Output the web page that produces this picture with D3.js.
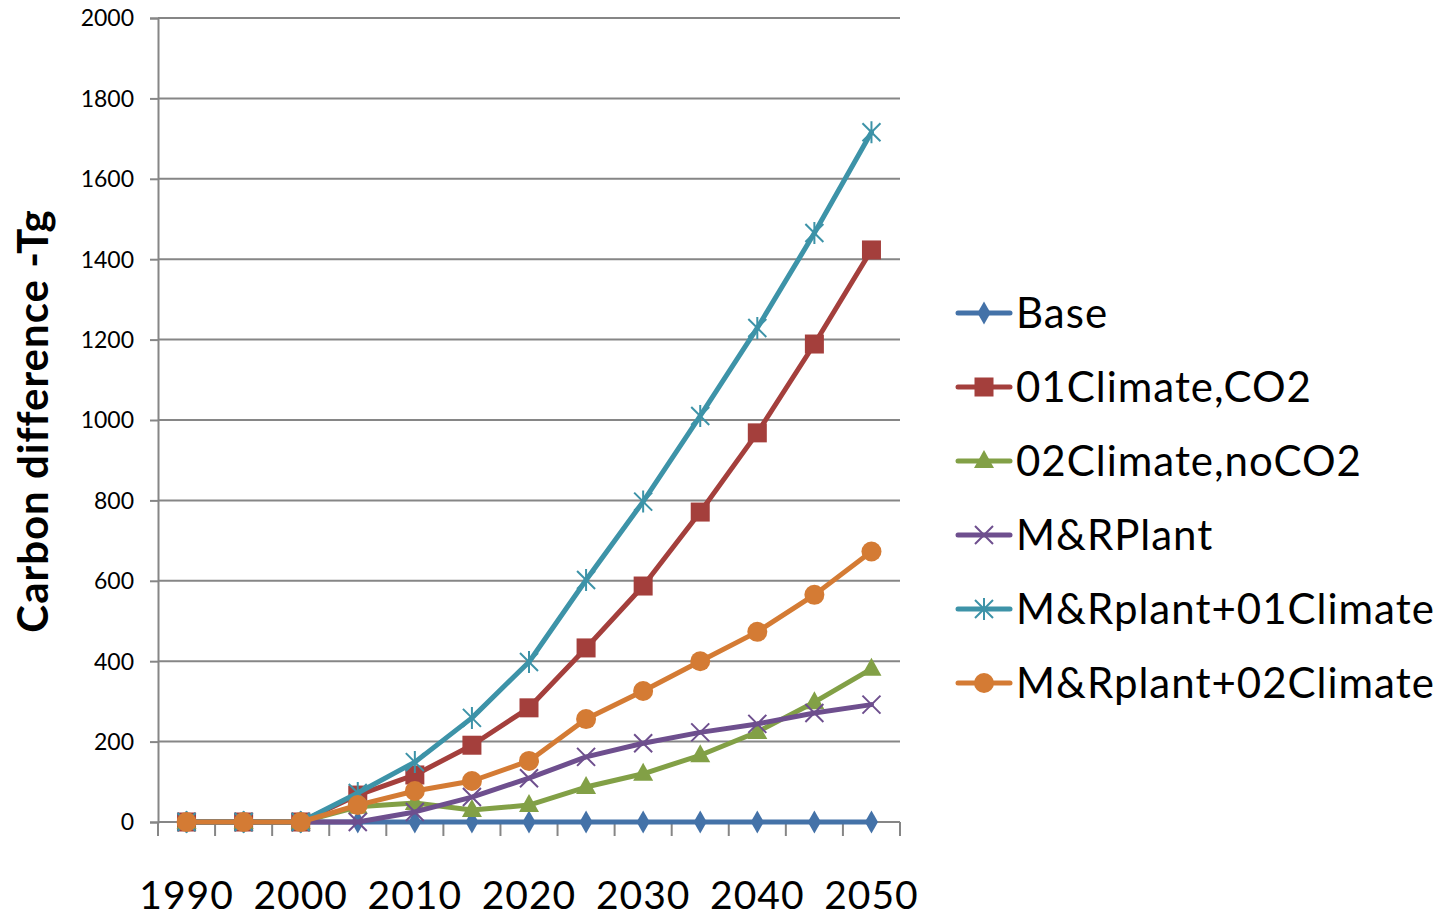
<!DOCTYPE html>
<html>
<head>
<meta charset="utf-8">
<script src="https://cdn.jsdelivr.net/npm/d3@7"></script>
<style>
  html, body { margin: 0; padding: 0; background: #fff; }
  svg { display: block; }
  text { font-family: Lato, "Open Sans", sans-serif; fill: #000; }
</style>
</head>
<body>
<svg id="chart" width="1440" height="917"></svg>
<script>
// Years on the category axis
const years = [1990, 1995, 2000, 2005, 2010, 2015, 2020, 2025, 2030, 2035, 2040, 2045, 2050];
const xTickLabels = ["1990", "2000", "2010", "2020", "2030", "2040", "2050"];
const yTicks = [0, 200, 400, 600, 800, 1000, 1200, 1400, 1600, 1800, 2000];

// Carbon difference (Tg) per scenario
const base          = [0, 0, 0, 0, 0, 0, 0, 0, 0, 0, 0, 0, 0];
const climateCO2    = [0, 0, 0, 67, 117, 191, 284, 433, 587, 771, 968, 1189, 1423];
const climateNoCO2  = [0, 0, 0, 38, 47, 30, 42, 87, 120, 166, 224, 298, 381];
const mrPlant       = [0, 0, 0, 0, 25, 62, 109, 162, 196, 223, 244, 271, 292];
const mrPlant01     = [0, 0, 0, 72, 149, 259, 398, 602, 797, 1010, 1229, 1465, 1716];
const mrPlant02     = [0, 0, 0, 42, 77, 102, 152, 256, 326, 400, 473, 565, 673];

const seriesNames  = ["Base", "01Climate,CO2", "02Climate,noCO2", "M&RPlant", "M&Rplant+01Climate", "M&Rplant+02Climate"];
const seriesColors = ["#4472a8", "#a43f3c", "#82a046", "#6e4f8e", "#3d93a8", "#d47b34"];
const seriesMarks  = ["diamond", "square", "triangle", "x", "star", "circle"];
const seriesValues = [base, climateCO2, climateNoCO2, mrPlant, mrPlant01, mrPlant02];

const svg = d3.select("#chart");
const plot = { left: 158, right: 900, top: 18, bottom: 822 };

const x = d3.scaleBand().domain(years).range([plot.left, plot.right]).paddingInner(0).paddingOuter(0);
const y = d3.scaleLinear().domain([0, 2000]).range([plot.bottom, plot.top]);
const cx = d => x(d) + x.bandwidth() / 2;

const gridColor = "#868686";

// Horizontal gridlines and y-axis
const yAxis = d3.axisLeft(y).tickValues(yTicks).tickSize(8).tickPadding(16).tickFormat(d3.format("d"));
const gy = svg.append("g").attr("transform", `translate(${plot.left},0)`).call(yAxis);
gy.select(".domain").attr("stroke", gridColor).attr("stroke-width", 2);
gy.selectAll(".tick line").attr("stroke", gridColor).attr("stroke-width", 2);
gy.selectAll(".tick text").attr("font-size", 23).attr("font-family", "Lato, sans-serif").attr("dy", "0.34em");

svg.append("g").selectAll("line").data(yTicks.filter(t => t > 0)).join("line")
  .attr("x1", plot.left).attr("x2", plot.right)
  .attr("y1", d => y(d)).attr("y2", d => y(d))
  .attr("stroke", gridColor).attr("stroke-width", 2);

// Category axis along zero line with ticks between categories
const bounds = years.map(d => x(d)).concat([plot.right]);
const gx = svg.append("g");
gx.append("line").attr("x1", plot.left).attr("x2", plot.right)
  .attr("y1", y(0)).attr("y2", y(0)).attr("stroke", gridColor).attr("stroke-width", 2);
gx.selectAll("line.tk").data(bounds).join("line").attr("class", "tk")
  .attr("x1", d => d).attr("x2", d => d)
  .attr("y1", y(0)).attr("y2", y(0) + 14)
  .attr("stroke", gridColor).attr("stroke-width", 2);
gx.selectAll("text").data(xTickLabels).join("text")
  .attr("x", d => cx(+d)).attr("y", 909)
  .attr("text-anchor", "middle").attr("font-size", 39).attr("letter-spacing", 1)
  .text(d => d);

// Y-axis title
svg.append("text")
  .attr("transform", "translate(48,421) rotate(-90)")
  .attr("text-anchor", "middle").attr("font-size", 42).attr("font-weight", "bold")
  .attr("letter-spacing", 1)
  .text("Carbon difference -Tg");

// Marker shapes
function marker(g, kind, color, px, py) {
  if (kind === "diamond") {
    g.append("path").attr("d", d3.symbol(d3.symbolDiamond, 150)()).attr("transform", `translate(${px},${py})`).attr("fill", color);
  } else if (kind === "square") {
    g.append("rect").attr("x", px - 9.5).attr("y", py - 9.5).attr("width", 19).attr("height", 19).attr("fill", color);
  } else if (kind === "triangle") {
    g.append("path").attr("d", `M${px},${py - 11}L${px + 10},${py + 7}L${px - 10},${py + 7}Z`).attr("fill", color);
  } else if (kind === "x") {
    g.append("path").attr("d", `M${px - 9},${py - 9}L${px + 9},${py + 9}M${px - 9},${py + 9}L${px + 9},${py - 9}`)
      .attr("stroke", color).attr("stroke-width", 2).attr("fill", "none");
  } else if (kind === "star") {
    g.append("path").attr("d", `M${px - 9},${py - 9}L${px + 9},${py + 9}M${px - 9},${py + 9}L${px + 9},${py - 9}M${px},${py - 11}L${px},${py + 11}`)
      .attr("stroke", color).attr("stroke-width", 2).attr("fill", "none");
  } else if (kind === "circle") {
    g.append("circle").attr("cx", px).attr("cy", py).attr("r", 10).attr("fill", color);
  }
}

// Series lines and markers
const line = d3.line().x((d, i) => cx(years[i])).y(d => y(d));
seriesValues.forEach((vals, s) => {
  const g = svg.append("g");
  g.append("path").datum(vals).attr("d", line)
    .attr("fill", "none").attr("stroke", seriesColors[s]).attr("stroke-width", 5)
    .attr("stroke-linejoin", "round").attr("stroke-linecap", "round");
  vals.forEach((v, i) => marker(g, seriesMarks[s], seriesColors[s], cx(years[i]), y(v)));
});

// Legend
const legend = svg.append("g");
seriesNames.forEach((name, s) => {
  const ly = 313 + s * 74;
  const g = legend.append("g");
  g.append("line").attr("x1", 958).attr("x2", 1010).attr("y1", ly).attr("y2", ly)
    .attr("stroke", seriesColors[s]).attr("stroke-width", 5).attr("stroke-linecap", "round");
  marker(g, seriesMarks[s], seriesColors[s], 984, ly);
  g.append("text").attr("x", 1016).attr("y", ly + 15).attr("font-size", 42).attr("letter-spacing", 1).text(name);
});
</script>
</body>
</html>
